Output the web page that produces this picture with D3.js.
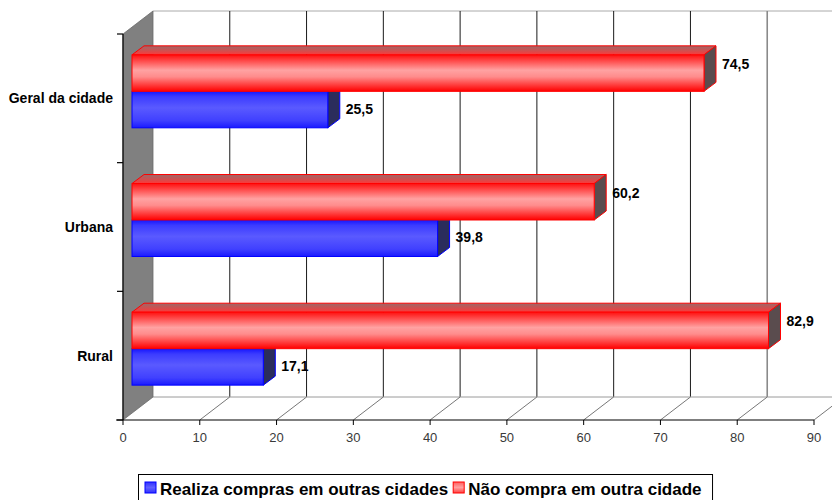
<!DOCTYPE html>
<html><head><meta charset="utf-8">
<script src="https://cdn.jsdelivr.net/npm/d3@7"></script>
<style>html,body{margin:0;padding:0;background:#fff}svg{display:block}</style>
</head><body>
<svg id="chart" width="832" height="500"></svg>
<script>
const categories = ["Geral da cidade", "Urbana", "Rural"];
const seriesNames = ["Realiza compras em outras cidades", "Não compra em outra cidade"];
const realiza = [25.5, 39.8, 17.1];
const naoCompra = [74.5, 60.2, 82.9];
const tickValues = [0, 10, 20, 30, 40, 50, 60, 70, 80, 90];
const tickLabels = ["0", "10", "20", "30", "40", "50", "60", "70", "80", "90"];

const svg = d3.select("#chart");
const defs = svg.append("defs");
const W = 832, H = 500;

const x = d3.scaleLinear().domain([0, 90]).range([123, 814]);
const y = d3.scaleBand().domain(categories).range([34, 420]);
const DEPTH = {dx: 30, dy: -23};
const BAR_FRONT = {dx: 9, dy: -7};
const BAR_DEPTH = {dx: 12, dy: -9};

function grad(id, stops) {
  const g = defs.append("linearGradient").attr("id", id).attr("x1", 0).attr("y1", 0).attr("x2", 0).attr("y2", 1);
  stops.forEach(s => g.append("stop").attr("offset", s[0]).attr("stop-color", s[1]));
}
grad("redFront", [[0, "#ff1010"], [0.12, "#ff3a3a"], [0.42, "#ffa2a2"], [0.6, "#ff8c8c"], [0.88, "#ff2a2a"], [1, "#ff0000"]]);
grad("blueFront", [[0, "#1515ff"], [0.15, "#3c3cff"], [0.45, "#5a5aff"], [0.8, "#4040ff"], [1, "#1a1aff"]]);
grad("redTop", [[0, "#9a6a6a"], [1, "#ff3838"]]);
grad("blueTop", [[0, "#6a6a9a"], [1, "#3838ff"]]);
grad("legRed", [[0, "#ff6060"], [0.5, "#ffa0a0"], [1, "#ff4040"]]);
grad("legBlue", [[0, "#3030ff"], [0.5, "#6060ff"], [1, "#3030ff"]]);

const FONT = "Liberation Sans, Arial, sans-serif";

// back wall top line
svg.append("line").attr("x1", x(0) + DEPTH.dx).attr("x2", W).attr("y1", y.range()[0] + DEPTH.dy).attr("y2", y.range()[0] + DEPTH.dy)
  .attr("stroke", "#aaaaaa").attr("stroke-width", 1);

// back gridlines
svg.selectAll(".grid").data(tickValues.filter(v => v > 0)).join("line")
  .attr("x1", d => x(d) + DEPTH.dx).attr("x2", d => x(d) + DEPTH.dx)
  .attr("y1", y.range()[0] + DEPTH.dy).attr("y2", y.range()[1] + DEPTH.dy)
  .attr("stroke", d => d === 80 ? "#8a8a8a" : "#1a1a1a").attr("stroke-width", d => d === 80 ? 1.6 : 1);

// floor back line
svg.append("line").attr("x1", x(0) + DEPTH.dx).attr("x2", W).attr("y1", y.range()[1] + DEPTH.dy).attr("y2", y.range()[1] + DEPTH.dy)
  .attr("stroke", "#9a9a9a");
// floor diagonals
svg.selectAll(".fdiag").data(tickValues.filter(v => v > 0)).join("line")
  .attr("x1", d => x(d)).attr("y1", y.range()[1])
  .attr("x2", d => x(d) + DEPTH.dx).attr("y2", y.range()[1] + DEPTH.dy)
  .attr("stroke", "#777").attr("stroke-width", 1);

// left wall
const x0 = x(0), yt = y.range()[0], yb = y.range()[1];
svg.append("path")
  .attr("d", `M${x0},${yt} L${x0 + DEPTH.dx},${yt + DEPTH.dy} L${x0 + DEPTH.dx},${yb + DEPTH.dy} L${x0},${yb} Z`)
  .attr("fill", "#808080").attr("stroke", "#6a6a6a").attr("stroke-width", 0.8);

// axes lines
svg.append("line").attr("x1", x0).attr("x2", x0).attr("y1", yt).attr("y2", yb).attr("stroke", "#000").attr("stroke-width", 1.2);
svg.append("line").attr("x1", x0 - 7).attr("x2", x(90)).attr("y1", yb).attr("y2", yb).attr("stroke", "#000").attr("stroke-width", 1.2);
// category ticks
const catTicks = categories.map(c => y(c)).concat([yb]);
svg.selectAll(".ctick").data(catTicks).join("line")
  .attr("x1", x0 - 6).attr("x2", x0).attr("y1", d => d).attr("y2", d => d).attr("stroke", "#000").attr("stroke-width", 1.2);
// value ticks
svg.selectAll(".vtick").data(tickValues).join("line")
  .attr("x1", d => x(d)).attr("x2", d => x(d)).attr("y1", yb).attr("y2", yb + 5).attr("stroke", "#000").attr("stroke-width", 1);
svg.selectAll(".vlab").data(tickValues).join("text")
  .attr("x", d => x(d)).attr("y", yb + 22).attr("text-anchor", "middle")
  .attr("font-family", FONT).attr("font-size", 13).attr("fill", "#3a3a3a")
  .text((d, i) => tickLabels[i]);

// category labels
svg.selectAll(".clab").data(categories).join("text")
  .attr("x", 113).attr("y", d => y(d) + y.bandwidth() / 2 + 5).attr("text-anchor", "end")
  .attr("font-family", FONT).attr("font-size", 14).attr("font-weight", "bold").attr("fill", "#000")
  .text(d => d);

// bars
const inner = d3.scaleBand().domain(["nao", "realiza"]).range([0, y.bandwidth() * 0.567]);
const barData = [];
categories.forEach((c, i) => {
  barData.push({cat: c, key: "realiza", v: realiza[i], front: "url(#blueFront)", top: "url(#blueTop)", side: "#2b2d5c", stroke: "#0000ff", labelDy: -1});
  barData.push({cat: c, key: "nao", v: naoCompra[i], front: "url(#redFront)", top: "url(#redTop)", side: "#5a4c4e", stroke: "#ff0000", labelDy: -9});
});
const groupOffset = (y.bandwidth() - y.bandwidth() * 0.567) / 2;
const bars = svg.selectAll(".bar").data(barData).join("g");
bars.each(function(d) {
  const g = d3.select(this);
  const fx0 = x(0) + BAR_FRONT.dx, fx1 = x(d.v) + BAR_FRONT.dx;
  const fy0 = y(d.cat) + groupOffset + inner(d.key) + BAR_FRONT.dy, fy1 = fy0 + inner.bandwidth();
  const dx = BAR_DEPTH.dx, dy = BAR_DEPTH.dy;
  g.append("path").attr("d", `M${fx0},${fy0} L${fx0 + dx},${fy0 + dy} L${fx1 + dx},${fy0 + dy} L${fx1},${fy0} Z`)
    .attr("fill", d.top).attr("stroke", d.stroke).attr("stroke-width", 1).attr("stroke-linejoin", "round");
  g.append("path").attr("d", `M${fx1},${fy0} L${fx1 + dx},${fy0 + dy} L${fx1 + dx},${fy1 + dy} L${fx1},${fy1} Z`)
    .attr("fill", d.side).attr("stroke", d.stroke).attr("stroke-width", 1).attr("stroke-linejoin", "round");
  g.append("rect").attr("x", fx0).attr("y", fy0).attr("width", fx1 - fx0).attr("height", fy1 - fy0)
    .attr("fill", d.front).attr("stroke", d.stroke).attr("stroke-width", 1);
  d.lx = fx1 + dx + 6; d.ly = (fy0 + fy1) / 2 + d.labelDy;
});
svg.selectAll(".dlab").data(barData).join("text")
  .attr("x", d => d.lx).attr("y", d => d.ly + 5)
  .attr("font-family", FONT).attr("font-size", 14).attr("font-weight", "bold").attr("fill", "#000")
  .text(d => String(d.v).replace(".", ","));

// legend
const leg = svg.append("g");
const legBox = leg.append("rect").attr("x", 138.5).attr("y", 474.5).attr("height", 30)
  .attr("fill", "#fff").attr("stroke", "#000").attr("stroke-width", 1);
const legItems = [
  {name: seriesNames[0], fill: "url(#legBlue)", stroke: "#0000ff"},
  {name: seriesNames[1], fill: "url(#legRed)", stroke: "#ff0000"}
];
let cx = 145;
legItems.forEach(it => {
  leg.append("rect").attr("x", cx).attr("y", 482).attr("width", 11).attr("height", 11)
    .attr("fill", it.fill).attr("stroke", it.stroke).attr("stroke-width", 1);
  const t = leg.append("text").attr("x", cx + 15).attr("y", 495)
    .attr("font-family", FONT).attr("font-size", 17).attr("font-weight", "bold").attr("fill", "#000")
    .text(it.name);
  cx = cx + 15 + t.node().getComputedTextLength() + 5;
});
legBox.attr("width", Math.min(cx + 6 - 138.5, W - 140));
</script>
</body></html>
